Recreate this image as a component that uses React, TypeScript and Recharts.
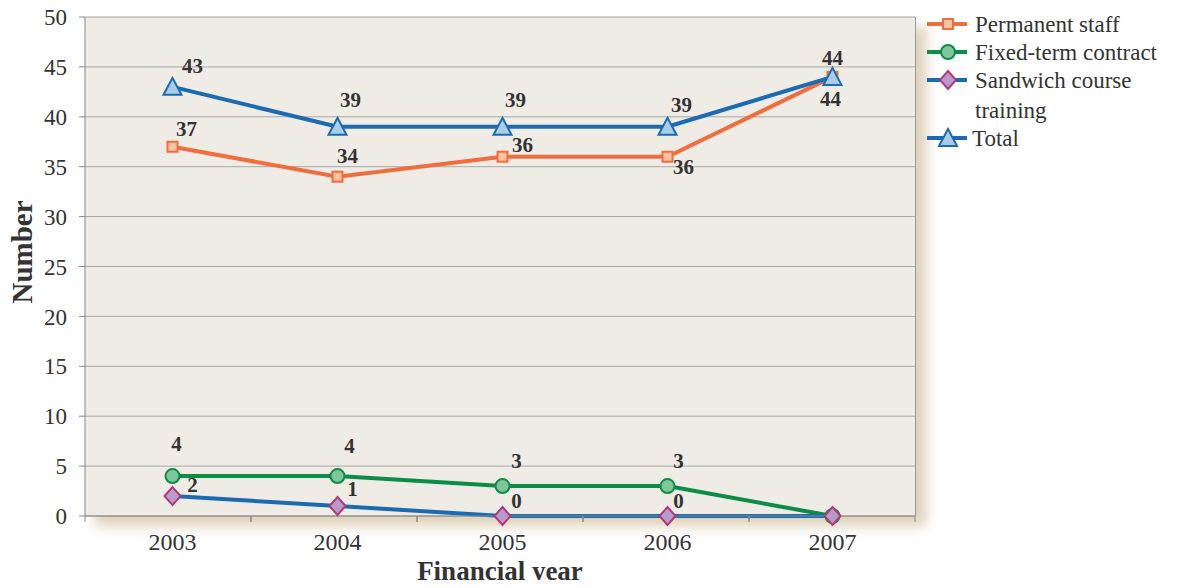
import React from 'react';
import { LineChart, Line, XAxis, YAxis, CartesianGrid, LabelList } from 'recharts';

const years = ['2003', '2004', '2005', '2006', '2007'];
const permanent = [37, 34, 36, 36, 44];
const fixedTerm = [4, 4, 3, 3, 0];
const sandwich = [2, 1, 0, 0, 0];
const total = [43, 39, 39, 39, 44];
const yTicks = [0, 5, 10, 15, 20, 25, 30, 35, 40, 45, 50];

const data = years.map((year, i) => ({
  year,
  permanent: permanent[i],
  fixedTerm: fixedTerm[i],
  sandwich: sandwich[i],
  total: total[i],
}));

const W = 1180;
const H = 588;
const PLOT_L = 85;
const PLOT_T = 17;
const PLOT_R = 915;
const PLOT_B = 516;
const BAND = (PLOT_R - PLOT_L) / years.length;
const FONT = '"Liberation Serif", "DejaVu Serif", serif';
const TEXT = '#333333';

const ORANGE = '#F26D3D';
const GREEN = '#0B8C47';
const BLUE = '#1B6BB2';

// label offsets (layout only)
const labelOffsets: Record<string, (number[] | null)[]> = {
  total: [[20, -21], [13, -27], [13, -27], [14, -22], [0, -19]],
  permanent: [[14, -18], [10, -21], [20, -12], [16, 10], [-2, 22]],
  fixedTerm: [[4, -32], [12, -30], [14, -25], [11, -25], null],
  sandwich: [[20, -11], [15, -17], [14, -15], [11, -15], null],
};

const makeLabel = (key: string) => (props: any) => {
  const { x, y, value, index } = props;
  const off = labelOffsets[key][index];
  if (!off) return null;
  return (
    <text
      key={`${key}-l-${index}`}
      x={x + off[0]}
      y={y + off[1]}
      textAnchor="middle"
      dominantBaseline="central"
      fontFamily={FONT}
      fontWeight="bold"
      fontSize={21}
      fill={TEXT}
    >
      {value}
    </text>
  );
};

const SquareDot = (p: any) => (
  <rect key={`sq-${p.index}`} x={p.cx - 5} y={p.cy - 5} width={10} height={10} fill="#F9C49F" stroke={ORANGE} strokeWidth={2} />
);
const CircleDot = (p: any) => (
  <circle key={`ci-${p.index}`} cx={p.cx} cy={p.cy} r={7} fill="#7FC79A" stroke={GREEN} strokeWidth={2} />
);
const DiamondDot = (p: any) => (
  <polygon
    key={`di-${p.index}`}
    points={`${p.cx},${p.cy - 9} ${p.cx + 8},${p.cy} ${p.cx},${p.cy + 9} ${p.cx - 8},${p.cy}`}
    fill="#B79BCB"
    stroke="#B2397A"
    strokeWidth={2}
  />
);
const TriangleDot = (p: any) => (
  <polygon
    key={`tr-${p.index}`}
    points={`${p.cx},${p.cy - 9} ${p.cx + 9},${p.cy + 8} ${p.cx - 9},${p.cy + 8}`}
    fill="#A9CDE5"
    stroke={BLUE}
    strokeWidth={2}
  />
);

const XTick = (props: any) => {
  const { x, y, payload, index } = props;
  const left = PLOT_L + index * BAND;
  return (
    <g>
      <line x1={left} x2={left} y1={y} y2={y + 6} stroke="#888" />
      <line x1={left + BAND} x2={left + BAND} y1={y} y2={y + 6} stroke="#888" />
      <text x={x} y={y + 34} textAnchor="middle" fontFamily={FONT} fontSize={24} fill={TEXT}>
        {payload.value}
      </text>
    </g>
  );
};

const legendItems = [
  { name: ['Permanent staff'], color: ORANGE, marker: 'square', y: 24 },
  { name: ['Fixed-term contract'], color: GREEN, marker: 'circle', y: 52 },
  { name: ['Sandwich course', 'training'], color: BLUE, marker: 'diamond', y: 80 },
  { name: ['Total'], color: BLUE, marker: 'triangle', y: 138 },
];

const LegendMarker = ({ type, cx, cy }: { type: string; cx: number; cy: number }) => {
  if (type === 'square') return <SquareDot cx={cx} cy={cy} index={0} />;
  if (type === 'circle') return <CircleDot cx={cx} cy={cy} index={0} />;
  if (type === 'diamond') return <DiamondDot cx={cx} cy={cy} index={0} />;
  return <TriangleDot cx={cx} cy={cy} index={0} />;
};

const CustomLegend = () => (
  <svg width={260} height={170} style={{ position: 'absolute', left: 920, top: 0 }}>
    {legendItems.map((it) => (
      <g key={it.name[0]}>
        <line x1={7} x2={47} y1={it.y} y2={it.y} stroke={it.color} strokeWidth={4} />
        <LegendMarker type={it.marker} cx={28} cy={it.y} />
        {it.name.map((line, j) => (
          <text
            key={line}
            x={it.marker === 'triangle' ? 52 : 55}
            y={it.y + j * 30}
            dominantBaseline="central"
            fontFamily={FONT}
            fontSize={23}
            fill={TEXT}
          >
            {line}
          </text>
        ))}
      </g>
    ))}
  </svg>
);

export default function App() {
  return (
    <div style={{ position: 'relative', width: W, height: H, margin: -8, background: '#fff' }}>
      <div
        style={{
          position: 'absolute',
          left: PLOT_L,
          top: PLOT_T,
          width: PLOT_R - PLOT_L + 1,
          height: PLOT_B - PLOT_T,
          boxSizing: 'border-box',
          background: '#EFECE6',
          borderRight: '1px solid #999',
          boxShadow: '10px 10px 12px rgba(214,200,170,0.85)',
        }}
      />
      <LineChart
        width={W}
        height={H}
        data={data}
        margin={{ top: PLOT_T, right: W - PLOT_R, bottom: 0, left: 0 }}
      >
        <CartesianGrid vertical={false} stroke="#A8A8A8" />
        <XAxis
          dataKey="year"
          type="category"
          scale="band"
          padding={{ left: 5, right: 0 }}
          tickLine={false}
          tickSize={0}
          tickMargin={0}
          axisLine={{ stroke: '#888' }}
          tick={<XTick />}
          height={H - PLOT_B}
          interval={0}
          label={{
            content: () => (
              <text
                x={(PLOT_L + PLOT_R) / 2}
                y={580}
                textAnchor="middle"
                fontFamily={FONT}
                fontWeight="bold"
                fontSize={27}
                fill={TEXT}
              >
                Financial year
              </text>
            ),
          }}
        />
        <YAxis
          width={PLOT_L}
          domain={[0, 50]}
          ticks={yTicks}
          interval={0}
          tickSize={6}
          tickMargin={12}
          axisLine={{ stroke: '#888' }}
          tickLine={{ stroke: '#888' }}
          tick={{ fill: TEXT, fontSize: 23, fontFamily: FONT }}
          label={{
            content: () => (
              <text
                x={22}
                y={252}
                transform="rotate(-90 22 252)"
                textAnchor="middle"
                dominantBaseline="central"
                fontFamily={FONT}
                fontWeight="bold"
                fontSize={29}
                fill={TEXT}
              >
                Number
              </text>
            ),
          }}
        />
        <Line dataKey="permanent" stroke={ORANGE} strokeWidth={4} dot={SquareDot} activeDot={false} isAnimationActive={false}>
          <LabelList dataKey="permanent" content={makeLabel('permanent')} />
        </Line>
        <Line dataKey="fixedTerm" stroke={GREEN} strokeWidth={4} dot={CircleDot} activeDot={false} isAnimationActive={false}>
          <LabelList dataKey="fixedTerm" content={makeLabel('fixedTerm')} />
        </Line>
        <Line dataKey="sandwich" stroke={BLUE} strokeWidth={4} dot={DiamondDot} activeDot={false} isAnimationActive={false}>
          <LabelList dataKey="sandwich" content={makeLabel('sandwich')} />
        </Line>
        <Line dataKey="total" stroke={BLUE} strokeWidth={4} dot={TriangleDot} activeDot={false} isAnimationActive={false}>
          <LabelList dataKey="total" content={makeLabel('total')} />
        </Line>
      </LineChart>
      <CustomLegend />
    </div>
  );
}
